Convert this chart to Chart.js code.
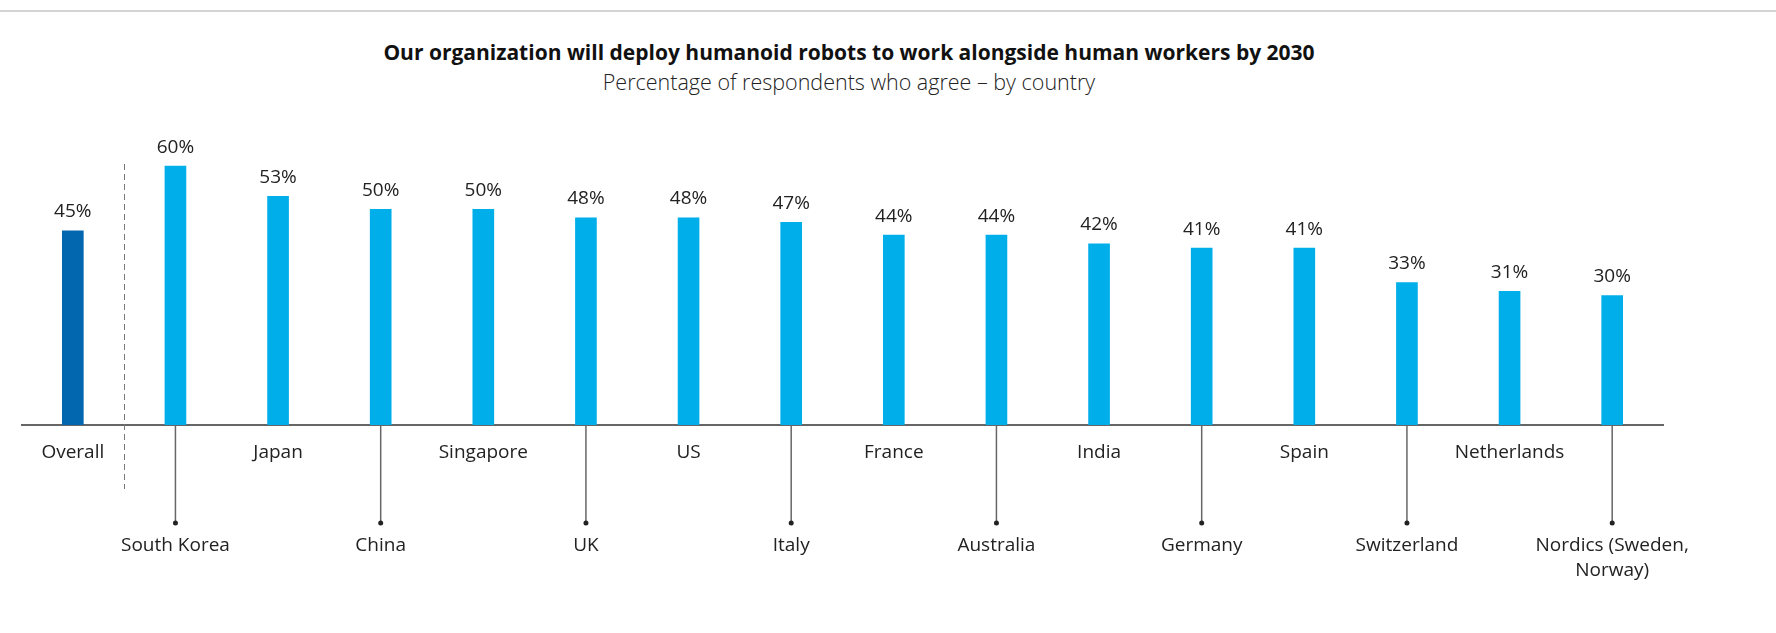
<!DOCTYPE html>
<html>
<head>
<meta charset="utf-8">
<script src="https://cdn.jsdelivr.net/npm/chart.js@4/dist/chart.umd.min.js"></script>
<style>
  html, body { margin: 0; padding: 0; background: #fff; }
  #wrap { position: relative; width: 1776px; height: 633px; overflow: hidden; }
  #rule { position: absolute; left: 0; top: 10px; width: 1776px; height: 2px; background: #d4d4d4; }
  .head { position: absolute; left: 249px; width: 1200px; text-align: center; font-family: "Open Sans", sans-serif; line-height: 26px; }
  #title { top: 39px; font-size: 21px; font-weight: 700; color: #111; }
  #subtitle { top: 69px; font-size: 21.5px; font-weight: 300; color: #222; }
  #myChart { position: absolute; left: 0; top: 0; }
</style>
</head>
<body>
<div id="wrap">
  <div id="rule"></div>
  <div class="head" id="title">Our organization will deploy humanoid robots to work alongside human workers by 2030</div>
  <div class="head" id="subtitle">Percentage of respondents who agree – by country</div>
  <canvas id="myChart" width="1776" height="633"></canvas>
</div>
<script>
// categories, first one is the overall average
var countries = ['Overall', 'South Korea', 'Japan', 'China', 'Singapore', 'UK', 'US', 'Italy',
  'France', 'Australia', 'India', 'Germany', 'Spain', 'Switzerland', 'Netherlands',
  ['Nordics (Sweden,', 'Norway)']];
var agreePct = [45, 60, 53, 50, 50, 48, 48, 47, 44, 44, 42, 41, 41, 33, 31, 30];
var yMax = 70;

var overallBlue = '#0367b0';
var countryBlue = '#00aeea';

// value labels, staggered category labels with leader lines, and the dashed divider
var labelPlugin = {
  id: 'labels',
  afterDatasetsDraw: function(chart) {
    var ctx = chart.ctx;
    var meta = chart.getDatasetMeta(0);
    var base = chart.scales.y.getPixelForValue(0);
    ctx.save();
    ctx.font = '19px "Open Sans", sans-serif';
    ctx.fillStyle = '#222';
    ctx.textAlign = 'center';
    ctx.textBaseline = 'middle';

    meta.data.forEach(function(bar, i) {
      ctx.fillStyle = '#222';
      ctx.fillText(agreePct[i] + '%', bar.x, bar.y - 19);

      var lines = [].concat(countries[i]);
      if (i % 2 === 0) {
        ctx.fillText(lines[0], bar.x, base + 28);
      } else {
        ctx.strokeStyle = '#666';
        ctx.lineWidth = 1.5;
        ctx.beginPath();
        ctx.moveTo(bar.x, base + 1);
        ctx.lineTo(bar.x, base + 98);
        ctx.stroke();
        ctx.beginPath();
        ctx.arc(bar.x, base + 98, 2.5, 0, Math.PI * 2);
        ctx.fill();
        lines.forEach(function(t, k) {
          ctx.fillText(t, bar.x, base + 121 + k * 25);
        });
      }
    });

    // divider between overall and the countries
    var dx = Math.round((meta.data[0].x + meta.data[1].x) / 2) + 0.5;
    ctx.strokeStyle = '#777';
    ctx.lineWidth = 1;
    ctx.setLineDash([6, 4]);
    ctx.beginPath();
    ctx.moveTo(dx, 164);
    ctx.lineTo(dx, 489);
    ctx.stroke();
    ctx.restore();
  }
};

var ctx = document.getElementById('myChart').getContext('2d');
var chart = new Chart(ctx, {
  type: 'bar',
  data: {
    labels: countries,
    datasets: [{
      data: agreePct,
      backgroundColor: agreePct.map(function(v, i) { return i === 0 ? overallBlue : countryBlue; }),
      barThickness: 21
    }]
  },
  options: {
    responsive: false,
    animation: false,
    devicePixelRatio: 1,
    layout: { padding: { left: 21.5, right: 112.5, top: 123, bottom: 200 } },
    plugins: { legend: { display: false }, tooltip: { enabled: false } },
    scales: {
      x: {
        grid: { display: false },
        ticks: { display: false },
        border: { display: true, color: '#666', width: 2 }
      },
      y: {
        display: false,
        min: 0,
        max: yMax
      }
    }
  },
  plugins: [labelPlugin]
});
</script>
</body>
</html>
